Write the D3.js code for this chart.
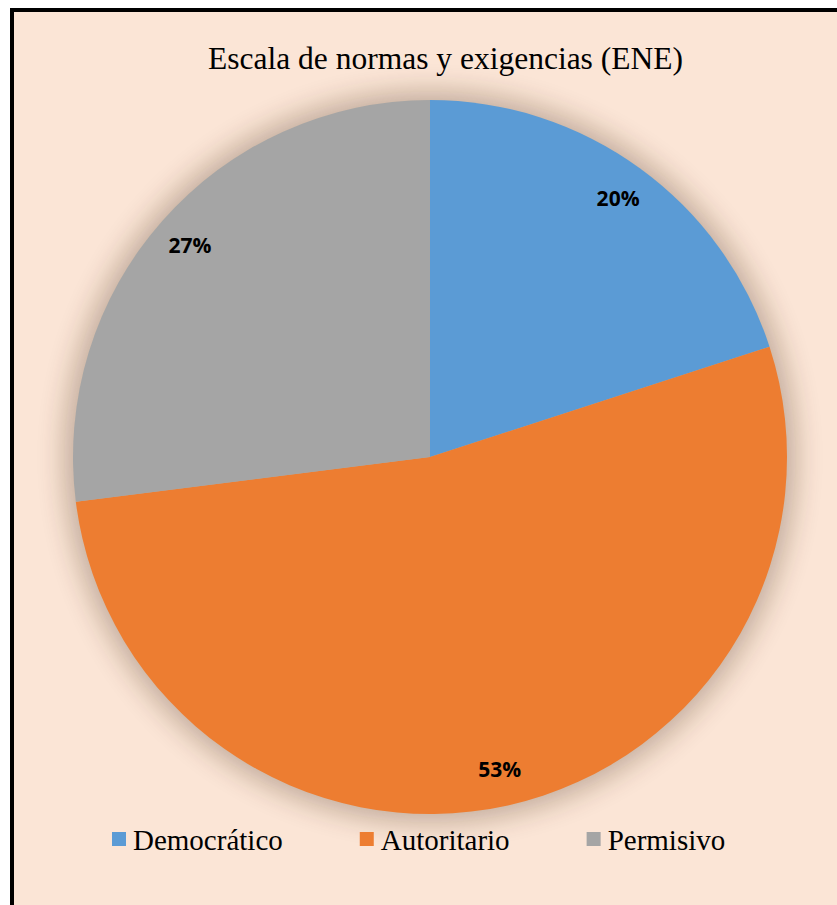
<!DOCTYPE html>
<html>
<head>
<meta charset="utf-8">
<script src="https://cdn.jsdelivr.net/npm/d3@7"></script>
<style>
  html, body { margin: 0; padding: 0; background: #fff; }
  svg { display: block; }
</style>
</head>
<body>
<svg id="chart"></svg>
<script>
const categories = ['Democrático', 'Autoritario', 'Permisivo']
const values = [20, 53, 27]
const colors = ['#5B9BD5', '#ED7D31', '#A5A5A5']
const title = 'Escala de normas y exigencias (ENE)'

const W = 837
const H = 905
const cx = 430
const cy = 457
const r = 357

const svg = d3.select('#chart').attr('width', W).attr('height', H)

// frame: background with black border on top and left (rest is cut off)
svg.append('rect').attr('x', 10).attr('y', 8).attr('width', W).attr('height', H)
  .attr('fill', '#FBE5D6')
svg.append('rect').attr('x', 10).attr('y', 8).attr('width', W).attr('height', 4).attr('fill', '#000')
svg.append('rect').attr('x', 10).attr('y', 8).attr('width', 4).attr('height', H).attr('fill', '#000')

const defs = svg.append('defs')
const blur = defs.append('filter').attr('id', 'soft').attr('x', '-20%').attr('y', '-20%')
  .attr('width', '140%').attr('height', '140%')
blur.append('feGaussianBlur').attr('stdDeviation', 14)

svg.append('text')
  .attr('x', 445.5).attr('y', 69)
  .attr('text-anchor', 'middle')
  .style('font-family', '"Liberation Serif", "Times New Roman", serif')
  .style('font-size', '31.5px')
  .attr('fill', '#000')
  .text(title)

const g = svg.append('g').attr('transform', `translate(${cx},${cy})`)

// soft outer shadow
g.append('circle').attr('r', r + 8).attr('fill', '#3a2010').attr('opacity', 0.3)
  .attr('filter', 'url(#soft)')

const pie = d3.pie().sort(null).value((d) => d)
const arcs = pie(values)
const arc = d3.arc().innerRadius(0).outerRadius(r)
const labelArc = d3.arc().innerRadius(320).outerRadius(320)

g.selectAll('path.slice')
  .data(arcs)
  .join('path')
  .attr('class', 'slice')
  .attr('d', arc)
  .attr('fill', (d, i) => colors[i])

g.selectAll('text.lbl')
  .data(arcs)
  .join('text')
  .attr('class', 'lbl')
  .attr('transform', (d) => `translate(${labelArc.centroid(d)})`)
  .attr('text-anchor', 'middle')
  .attr('dy', '0.36em')
  .style('font-family', '"Open Sans", "Noto Sans", sans-serif')
  .style('font-weight', 'bold')
  .style('font-size', '21px')
  .attr('fill', '#000')
  .text((d) => d.data + '%')

// legend
const legend = svg.append('g').attr('transform', 'translate(112,832)')
let lx = 0
categories.forEach((c, i) => {
  const item = legend.append('g').attr('transform', `translate(${lx},0)`)
  item.append('rect').attr('width', 14).attr('height', 14).attr('fill', colors[i])
  const t = item.append('text')
    .attr('x', 21).attr('y', 18)
    .style('font-family', '"Liberation Serif", "Times New Roman", serif')
    .style('font-size', '29px')
    .attr('fill', '#000')
    .text(c)
  lx += 21 + t.node().getComputedTextLength() + 77
})
</script>
</body>
</html>
